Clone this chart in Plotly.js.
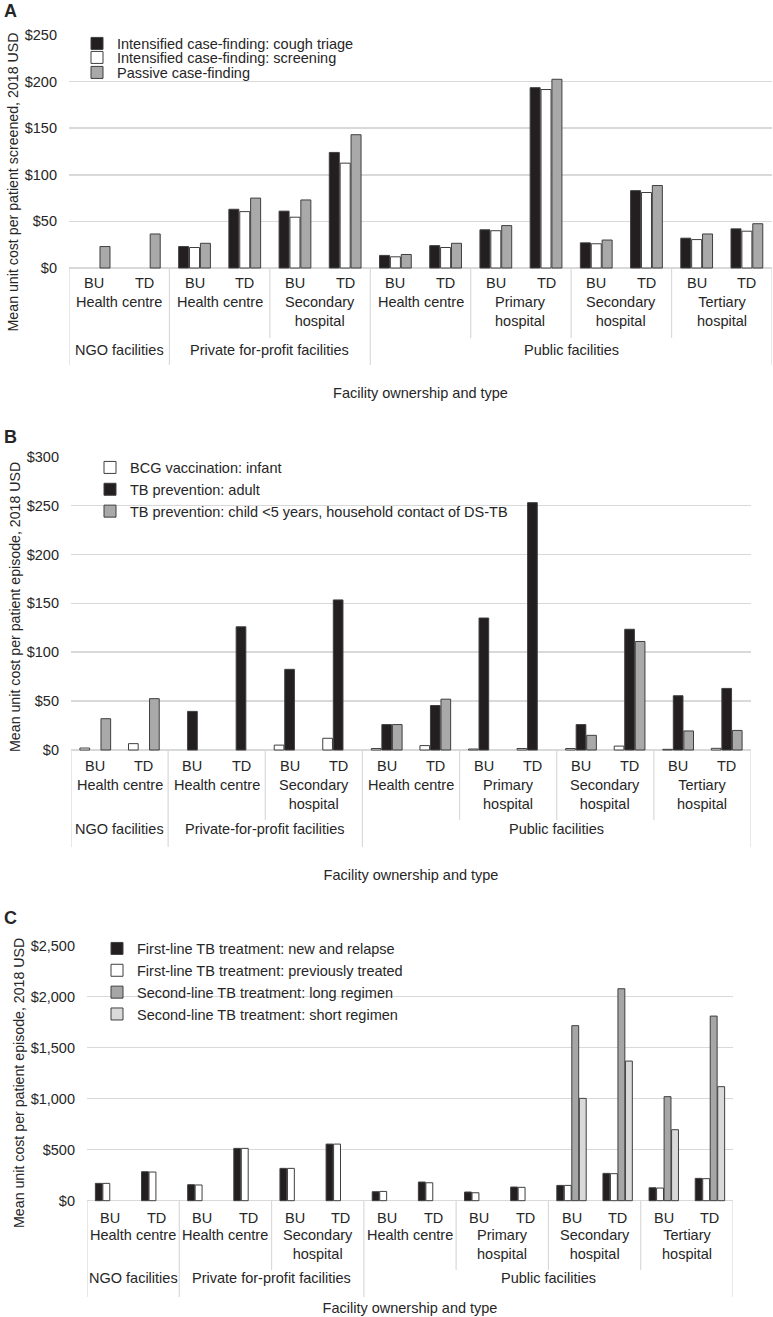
<!DOCTYPE html>
<html>
<head>
<meta charset="utf-8">
<script src="https://cdn.plot.ly/plotly-3.0.1.min.js"></script>
<style>html,body{margin:0;padding:0;background:#fff}#chart{width:773px;height:1317px}</style>
</head>
<body>
<div id="chart"></div>
<script>
// ---------- data ----------
const methods = ["BU", "TD"];
const facilityTypes = ["Health centre", "Health centre", "Secondary<br>hospital", "Health centre", "Primary<br>hospital", "Secondary<br>hospital", "Tertiary<br>hospital"];
const groupOwner = [0, 1, 1, 2, 2, 2, 2];
const ownerLabelsA = ["NGO facilities", "Private for-profit facilities", "Public facilities"];
const ownerLabelsB = ["NGO facilities", "Private-for-profit facilities", "Public facilities"];
const ownerLabelsC = ["NGO facilities", "Private for-profit facilities", "Public facilities"];
const ownerKeys = ["NGO", "Private", "Public"];

// Panel A: mean unit cost per patient screened (2018 USD)
const seriesNamesA = ["Intensified case-finding: cough triage", "Intensified case-finding: screening", "Passive case-finding"];
const coughTriage = [null, null, 23, 63, 61, 124, 13.5, 24, 41, 193.5, 27, 83, 32, 42];
const screening   = [null, null, 22, 60.5, 54.5, 112.5, 12, 22, 40, 191.5, 26, 81, 30.5, 39.5];
const passiveCF   = [23, 36.5, 26.5, 75, 73, 143, 14.5, 26.5, 45.5, 202.5, 30, 88.5, 36.5, 47.5];
const yTicksA = [0, 50, 100, 150, 200, 250];

// Panel B: mean unit cost per patient episode (2018 USD)
const seriesNamesB = ["BCG vaccination: infant", "TB prevention: adult", "TB prevention: child <5 years, household contact of DS-TB"];
const bcgInfant  = [2, 6.5, null, null, 5, 12, 1.5, 4.5, 1, 1.5, 1.5, 4, 0.7, 1.7];
const prevAdult  = [null, null, 39.5, 126, 82.5, 153.5, 26, 45.5, 135, 253, 26, 123.5, 55.5, 63];
const prevChild  = [32, 52.5, null, null, null, null, 26, 52, null, null, 15, 111, 19.5, 20];
const yTicksB = [0, 50, 100, 150, 200, 250, 300];

// Panel C: mean unit cost per patient episode (2018 USD)
const seriesNamesC = ["First-line TB treatment: new and relapse", "First-line TB treatment: previously treated", "Second-line TB treatment: long regimen", "Second-line TB treatment: short regimen"];
const firstLineNew  = [170, 284, 157, 513, 317, 555, 88, 183, 85, 134, 150, 268, 127, 219];
const firstLinePrev = [170, 281, 154, 513, 317, 555, 91, 176, 78, 131, 150, 265, 124, 216];
const secondLong    = [null, null, null, null, null, null, null, null, null, null, 1716, 2078, 1020, 1810];
const secondShort   = [null, null, null, null, null, null, null, null, null, null, 1003, 1369, 696, 1118];
const yTicksC = [0, 500, 1000, 1500, 2000, 2500];

// ---------- layout helpers ----------
const W = 773, H = 1317;
const px = v => v / W;
const py = v => 1 - v / H;
const FONT = "Liberation Sans, Arial, sans-serif";
const TXT = "#262626";
const GRID = "#d9d9d9";
const EDGE = "#3f3f3f";
const FS = 14.5;

const catKeys = [];
facilityTypes.forEach((t, g) => methods.forEach(m => catKeys.push(ownerKeys[groupOwner[g]] + " | " + t.replace("<br>", " ") + " | " + m)));

const panels = [
  {xa: "x",  ya: "y",  left: 69, right: 772, top: 35,    zero: 268,    bottom: 329,  ymax: 250,  ticks: yTicksA,
   ytitle: "Mean unit cost per patient screened, 2018 USD", owners: ownerLabelsA, letter: "A", letterY: 11,
   rowMethod: 283, rowType: 292, rowOwner: 350, sepShort: 338, sepLong: 365, xtitleStand: 58},
  {xa: "x2", ya: "y2", left: 71, right: 751, top: 456.7, zero: 750,    bottom: 757,  ymax: 300,  ticks: yTicksB,
   ytitle: "Mean unit cost per patient episode, 2018 USD", owners: ownerLabelsB, letter: "B", letterY: 437,
   rowMethod: 766, rowType: 775, rowOwner: 829, sepShort: 820, sepLong: 847, xtitleStand: 112},
  {xa: "x3", ya: "y3", left: 87, right: 733, top: 945.7, zero: 1200.7, bottom: 1220, ymax: 2500, ticks: yTicksC,
   ytitle: "Mean unit cost per patient episode, 2018 USD", owners: ownerLabelsC, letter: "C", letterY: 918,
   rowMethod: 1218, rowType: 1225, rowOwner: 1278, sepShort: 1270, sepLong: 1297, xtitleStand: 82}
];

function barTrace(name, y, color, p, lg) {
  return {type: "bar", name: name, x: catKeys, y: y, xaxis: p.xa, yaxis: p.ya, legend: lg,
          marker: {color: color, line: {color: EDGE, width: 1}}, hoverinfo: "name+y"};
}

const data = [
  barTrace(seriesNamesA[0], coughTriage, "#231f20", panels[0], "legend"),
  barTrace(seriesNamesA[1], screening, "#ffffff", panels[0], "legend4"),
  barTrace(seriesNamesA[2], passiveCF, "#a9a9a9", panels[0], "legend5"),
  barTrace(seriesNamesB[0], bcgInfant, "#ffffff", panels[1], "legend2"),
  barTrace(seriesNamesB[1], prevAdult, "#231f20", panels[1], "legend2"),
  barTrace(seriesNamesB[2], prevChild, "#a9a9a9", panels[1], "legend2"),
  barTrace(seriesNamesC[0], firstLineNew, "#231f20", panels[2], "legend3"),
  barTrace(seriesNamesC[1], firstLinePrev, "#ffffff", panels[2], "legend3"),
  barTrace(seriesNamesC[2], secondLong, "#a6a6a6", panels[2], "legend3"),
  barTrace(seriesNamesC[3], secondShort, "#d9d9d9", panels[2], "legend3")
];

const layout = {
  width: W, height: H,
  margin: {l: 0, r: 0, t: 0, b: 0},
  paper_bgcolor: "#fff", plot_bgcolor: "#fff",
  font: {family: FONT, color: TXT, size: FS},
  barmode: "group", bargap: 0.35, bargroupgap: 0.08,
  showlegend: true,
  annotations: [], shapes: []
};

// legend boxes (panel A rows are tighter than Plotly's default item spacing, so each row has its own box)
const legendPos = {
  legend:  {x: 77, y: 27.5},
  legend4: {x: 77, y: 41.5},
  legend5: {x: 77, y: 56.5},
  legend2: {x: 90, y: 451.5},
  legend3: {x: 97, y: 932.5}
};
Object.keys(legendPos).forEach(k => {
  layout[k] = {x: px(legendPos[k].x), y: py(legendPos[k].y), xanchor: "left", yanchor: "top",
               bgcolor: "rgba(0,0,0,0)", borderwidth: 0, font: {size: FS, color: TXT}, traceorder: "normal"};
});

const money = v => "$" + v.toLocaleString("en-US");

panels.forEach((p, k) => {
  const xKey = p.xa === "x" ? "xaxis" : "xaxis" + p.xa.slice(1);
  const yKey = p.ya === "y" ? "yaxis" : "yaxis" + p.ya.slice(1);
  const scale = (p.zero - p.top) / p.ymax;
  layout[xKey] = {
    type: "category", domain: [px(p.left), px(p.right)], anchor: p.ya,
    range: [-0.5, 13.5], showticklabels: false, ticks: "", showgrid: false, showline: false, zeroline: false,
    fixedrange: true,
    title: {text: "Facility ownership and type", font: {size: FS, color: TXT}, standoff: p.xtitleStand}
  };
  layout[yKey] = {
    domain: [py(p.bottom), py(p.top)], anchor: p.xa,
    range: [-(p.bottom - p.zero) / scale, p.ymax],
    tickmode: "array", tickvals: p.ticks, ticktext: p.ticks.map(money),
    ticklabelstandoff: 11,
    showgrid: true, gridcolor: GRID, gridwidth: 1.5,
    zeroline: true, zerolinecolor: GRID, zerolinewidth: 1.5,
    showline: false, ticks: "", fixedrange: true,
    tickfont: {size: FS, color: TXT},
    title: {text: p.ytitle, font: {size: 14.2, color: TXT}, standoff: 2}
  };

  // panel letter
  layout.annotations.push({text: "<b>" + p.letter + "</b>", xref: "paper", yref: "paper",
    x: px(2), y: py(p.letterY), xanchor: "left", yanchor: "middle", showarrow: false,
    font: {size: 18, color: TXT}});

  // BU / TD row
  catKeys.forEach((c, i) => {
    layout.annotations.push({text: methods[i % 2], xref: p.xa, yref: "paper", x: i, y: py(p.rowMethod),
      xanchor: "center", yanchor: "middle", showarrow: false, font: {size: FS, color: TXT}});
  });
  // facility type row
  facilityTypes.forEach((t, g) => {
    layout.annotations.push({text: t, xref: p.xa, yref: "paper", x: 2 * g + 0.5, y: py(p.rowType),
      xanchor: "center", yanchor: "top", showarrow: false, font: {size: FS, color: TXT}});
  });
  // separators
  for (let g = 0; g <= facilityTypes.length; g++) {
    const isLong = g === 0 || g === facilityTypes.length || groupOwner[g] !== groupOwner[g - 1];
    const bx = 2 * g - 0.5;
    layout.shapes.push({type: "line", xref: p.xa, yref: "paper", x0: bx, x1: bx,
      y0: py(p.zero), y1: py(isLong ? p.sepLong : p.sepShort), line: {color: GRID, width: 1.2}});
  }
  // ownership row
  p.owners.forEach((o, oi) => {
    const gs = groupOwner.map((v, g) => v === oi ? g : -1).filter(v => v >= 0);
    const first = 2 * gs[0], last = 2 * gs[gs.length - 1] + 1;
    layout.annotations.push({text: o, xref: p.xa, yref: "paper", x: (first + last) / 2, y: py(p.rowOwner),
      xanchor: "center", yanchor: "middle", showarrow: false, font: {size: FS, color: TXT}});
  });
});

Plotly.newPlot("chart", data, layout, {displayModeBar: false, staticPlot: true});
</script>
</body>
</html>
